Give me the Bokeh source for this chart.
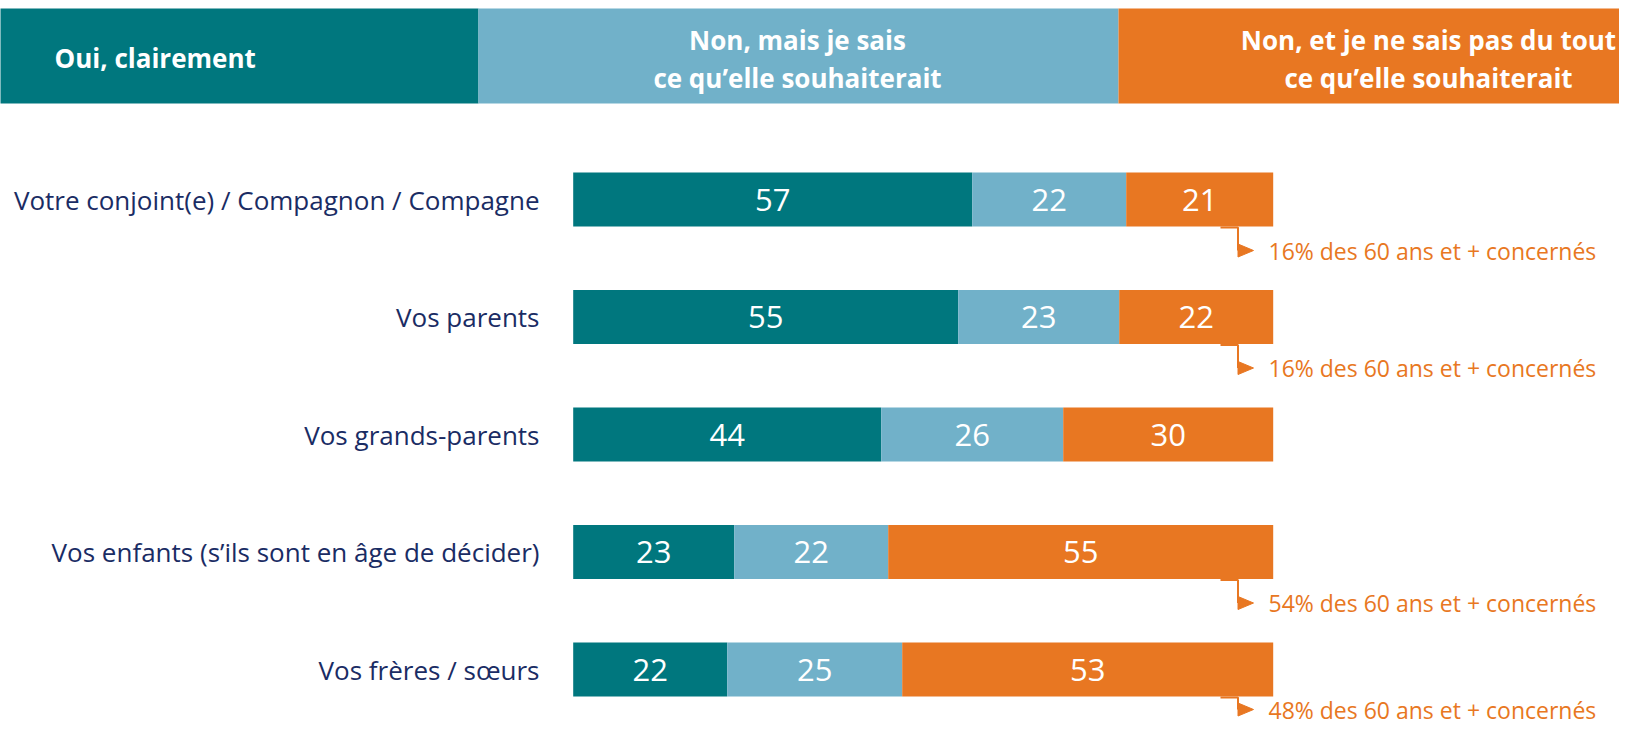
import numpy as np
from bokeh.plotting import figure
from bokeh.models import Range1d, ColumnDataSource
from bokeh.core.properties import value
from bokeh.embed import file_html
from bokeh.resources import INLINE

# ---- data ----
categories = [
    "Votre conjoint(e) / Compagnon / Compagne",
    "Vos parents",
    "Vos grands-parents",
    "Vos enfants (s\u2019ils sont en \u00e2ge de d\u00e9cider)",
    "Vos fr\u00e8res / s\u0153urs",
]
oui = [57, 55, 44, 23, 22]
non_sait = [22, 23, 26, 22, 25]
non_sait_pas = [21, 22, 30, 55, 53]
series_names = ["Oui, clairement",
                "Non, mais je sais\nce qu\u2019elle souhaiterait",
                "Non, et je ne sais pas du tout\nce qu\u2019elle souhaiterait"]
notes = ["16% des 60 ans et + concern\u00e9s",
         "16% des 60 ans et + concern\u00e9s",
         "",
         "54% des 60 ans et + concern\u00e9s",
         "48% des 60 ans et + concern\u00e9s"]

# ---- style / layout ----
TEAL = "#00777E"
LBLUE = "#71B1C9"
ORANGE = "#E87722"
NAVY = "#1A2C64"
FONT = "Open Sans"
colors = [TEAL, LBLUE, ORANGE]

W, H = 1619, 730
PX_PER_PCT = 7.0
X0 = 572.7          # pixel of 0 %
ROW0 = 199.0        # pixel of first row centre
ROW_STEP = 117.5    # pixels between rows


def px(x):   # pixel x -> data x
    return (x - X0) / PX_PER_PCT


def py(y):   # pixel y -> data y (row units)
    return (y - ROW0) / ROW_STEP


p = figure(width=W, height=H, output_backend="svg", toolbar_location=None,
           x_range=Range1d(px(0), px(W)), y_range=Range1d(py(H), py(0)),
           min_border=0, outline_line_color=None)
p.axis.visible = False
p.grid.visible = False
p.background_fill_color = "white"
p.border_fill_color = "white"

n = len(categories)
rows = np.arange(n)
bar_h = 54 / ROW_STEP

series = [np.array(oui, float), np.array(non_sait, float), np.array(non_sait_pas, float)]
left = np.zeros(n)
for vals, col in zip(series, colors):
    right = left + vals
    src = ColumnDataSource(dict(y=rows, left=left, right=right,
                                mid=(left + right) / 2, lab=[str(int(v)) for v in vals]))
    p.hbar(y="y", left="left", right="right", height=bar_h, source=src,
           fill_color=col, line_color=None)
    p.text(x="mid", y="y", text="lab", source=src, text_color="white",
           text_font=value(FONT), text_font_size="31px",
           text_align="center", text_baseline="middle")
    left = right

# category labels
p.text(x=[px(539)] * n, y=rows, text=categories, text_color=NAVY,
       text_font=value(FONT), text_font_size="26px",
       text_align="right", text_baseline="middle")

# header band
hdr_edges = [px(-5), px(478), px(1118), px(W + 5)]
p.quad(left=hdr_edges[:-1], right=hdr_edges[1:], top=[py(8)] * 3,
       bottom=[py(103)] * 3, fill_color=colors, line_color=None)
p.text(x=[px(54)], y=[py(57)], text=[series_names[0]], text_color="white",
       text_font=value(FONT), text_font_style="bold", text_font_size="26px",
       text_align="left", text_baseline="middle")
for cx, name in zip([px(797), px(1428)], series_names[1:]):
    l1, l2 = name.split("\n")
    p.text(x=[cx, cx], y=[py(39.6), py(77)], text=[l1, l2], text_color="white",
           text_font=value(FONT), text_font_style="bold", text_font_size="26px",
           text_align="center", text_baseline="middle")

# annotations (elbow arrow + note)
for i, note in enumerate(notes):
    if not note:
        continue
    off = 51 / ROW_STEP if i < n - 1 else 40 / ROW_STEP
    y0 = i + bar_h / 2 + 0.008
    y1 = i + off
    p.line(x=[px(1220), px(1237.5), px(1237.5)], y=[y0, y0, y1],
           line_color=ORANGE, line_width=2)
    p.patch(x=[px(1237.5), px(1237.5), px(1253)],
            y=[y1 - 6.5 / ROW_STEP, y1 + 6.5 / ROW_STEP, y1],
            fill_color=ORANGE, line_color=ORANGE)
    p.text(x=[px(1268)], y=[y1], text=[note], text_color=ORANGE,
           text_font=value(FONT), text_font_size="23px",
           text_align="left", text_baseline="middle")

open("out.html", "w").write(file_html(p, INLINE))
